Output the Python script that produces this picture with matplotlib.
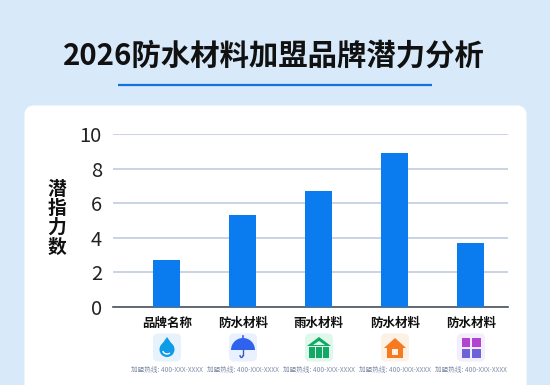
import numpy as np
import matplotlib
matplotlib.use('Agg')
import matplotlib.pyplot as plt
from matplotlib.patches import FancyBboxPatch, Polygon, Rectangle, Wedge, Circle, Arc

plt.rcParams['font.family'] = ['Noto Sans CJK SC', 'DejaVu Sans']

title = '2026防水材料加盟品牌潜力分析'
ylabel = '潜\n指\n力\n数'
categories = ['品牌名称', '防水材料', '雨水材料', '防水材料', '防水材料']
values = [2.7, 5.3, 6.7, 8.9, 3.7]
yticks = [0, 2, 4, 6, 8, 10]
hotline = '加盟热线: 400-XXX-XXXX'
icon_bg = ['#e6f3fd', '#e9f1fe', '#e0f7ec', '#fdf0e4', '#f3edfc']

W, H = 550, 385
fig = plt.figure(figsize=(W/100, H/100), dpi=100, facecolor='#d8eafa')

# overlay in pixels for card, title and icons
bg = fig.add_axes([0, 0, 1, 1])
bg.set_xlim(0, W)
bg.set_ylim(H, 0)
bg.axis('off')
bg.add_patch(FancyBboxPatch((30, 111), 491, 290, boxstyle='round,pad=0,rounding_size=4',
                            mutation_aspect=1, fc='white', ec='white', lw=8, joinstyle='round'))
bg.text(274, 56, title, fontsize=21.2, fontweight='bold', color='#111111', ha='center', va='center')
bg.plot([118, 432], [85, 85], color='#1273e0', lw=1.6, solid_capstyle='butt')

ax = fig.add_axes([113/W, 1-307/H, 395/W, 173/H])
ax.patch.set_alpha(0)
x = np.arange(len(values))
ax.bar(x, values, width=0.355, color='#0a7cf0', zorder=3)
ax.set_xlim(-0.71, 4.49)
ax.set_ylim(0, 10)
ax.set_yticks(yticks)
ax.tick_params(axis='y', length=0, labelsize=14.5, labelcolor='#222222', pad=8)
ax.set_xticks(x)
ax.set_xticklabels(categories, fontsize=9, fontweight='bold', color='#111111')
ax.tick_params(axis='x', length=0, pad=7)
ax.grid(axis='y', color='#bcc8de', lw=1.1, zorder=0)
for s in ['top', 'right', 'left']:
    ax.spines[s].set_visible(False)
ax.spines['bottom'].set_color('#4a5160')
ax.spines['bottom'].set_linewidth(1.2)
bg.text(57, 218, ylabel, fontsize=13.5, fontweight='bold', color='#111111',
        ha='center', va='center', linespacing=1.02)

cx = [167 + 76*i for i in x]
for i, c in enumerate(cx):
    bg.add_patch(FancyBboxPatch((c-14, 333.5), 28, 28, boxstyle='round,pad=0,rounding_size=5',
                                fc=icon_bg[i], ec='none'))
    bg.text(c, 370, hotline, fontsize=4.75, color='#7f8ba6', ha='center', va='center')

# drop
c = cx[0]
bg.add_patch(Circle((c, 349.5), 7.5, fc='#0e9be8', ec='none'))
bg.add_patch(Polygon([[c, 337], [c-7, 347], [c+7, 347]], fc='#0e9be8', ec='none'))
bg.add_patch(Arc((c, 349.5), 9, 9, theta1=50, theta2=160, color='white', lw=1))
# umbrella
c = cx[1]
bg.add_patch(Wedge((c, 350), 12, 180, 360, fc='#2f63ee', ec='none'))
bg.plot([c, c], [336, 339], color='#2f63ee', lw=1.2)
bg.add_patch(Arc((c-1.5, 355), 3, 5, theta1=0, theta2=180, color='#3a58c8', lw=1))
bg.plot([c, c], [349, 355], color='#3a58c8', lw=1)
# green house
c = cx[2]
bg.add_patch(Polygon([[c, 337], [c+12, 346], [c-12, 346]], fc='#12a866', ec='none'))
bg.add_patch(Polygon([[c, 341], [c+6, 345], [c-6, 345]], fc='#e0f7ec', ec='none'))
for dx in [-10, -3, 4]:
    bg.add_patch(Rectangle((c+dx, 347), 6, 11, fc='#12a866', ec='none'))
# orange house
c = cx[3]
bg.add_patch(Polygon([[c, 338], [c+11, 348], [c-11, 348]], fc='#f57a20', ec='none'))
bg.add_patch(Rectangle((c-8, 346), 16, 12, fc='#f57a20', ec='none'))
bg.add_patch(Rectangle((c-3, 349), 6, 5.5, fc='#fdf0e4', ec='none'))
# grid icon
c = cx[4]
for dx, dy, col in [(-9.5, 338, '#b244d4'), (1, 338, '#b244d4'), (-9.5, 349, '#6c63d8'), (1, 349, '#6c63d8')]:
    bg.add_patch(Rectangle((c+dx, dy), 8.5, 9, fc=col, ec='none'))

fig.savefig('out.png', dpi=100, facecolor=fig.get_facecolor())
